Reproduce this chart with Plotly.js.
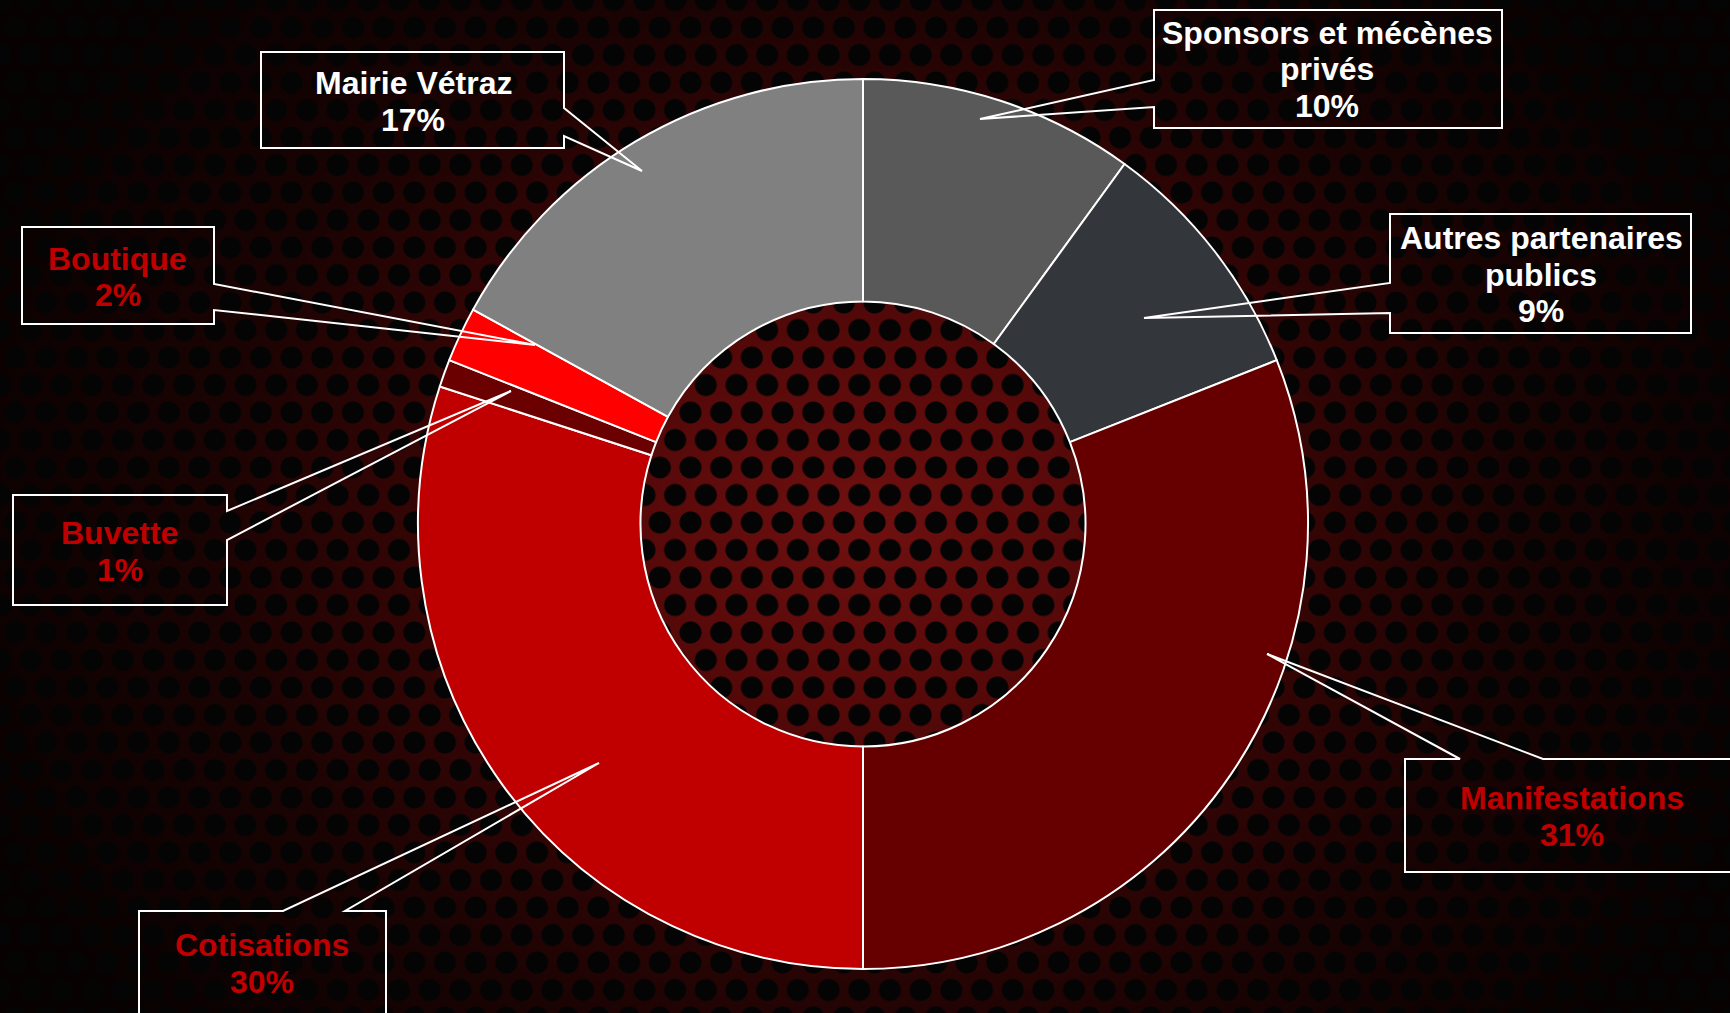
<!DOCTYPE html>
<html>
<head>
<meta charset="utf-8">
<script src="https://cdn.plot.ly/plotly-3.0.1.min.js"></script>
<style>
  html, body { margin: 0; padding: 0; overflow: hidden; }
  body {
    width: 1730px; height: 1013px;
    background-color: #000;
    background-image:
      radial-gradient(circle at 50% 50%, #040404 0px, #040404 10.5px, rgba(0,0,0,0) 11.5px),
      radial-gradient(circle at 50% 50%, #040404 0px, #040404 10.5px, rgba(0,0,0,0) 11.5px),
      radial-gradient(ellipse 950px 780px at 863px 524px, #701010 0%, #560909 24%, #340505 48%, #1a0303 70%, #080101 100%);
    background-size: 30.7px 55px, 30.7px 55px, 100% 100%;
    background-position: 0px 0px, 15.35px 27.5px, 0 0;
  }
  #chart { width: 1730px; height: 1013px; }
</style>
</head>
<body>
<div id="chart"></div>
<script>
// ---- data ----
const categories = ["Sponsors et mécènes privés", "Autres partenaires publics", "Manifestations", "Cotisations", "Buvette", "Boutique", "Mairie Vétraz"];
const values = [10, 9, 31, 30, 1, 2, 17];
const labelLines = [["Sponsors et mécènes", "privés"], ["Autres partenaires", "publics"], ["Manifestations"], ["Cotisations"], ["Buvette"], ["Boutique"], ["Mairie Vétraz"]];
const sliceColors = ["#595959", "#33363b", "#660000", "#c00000", "#6b0000", "#ff0000", "#808080"];
const textColors = ["#ffffff", "#ffffff", "#c00000", "#c00000", "#c00000", "#c00000", "#ffffff"];

// ---- layout (pixel positions of callout boxes) ----
const W = 1730, H = 1013;
const callouts = [
  {box: [1154, 10, 1502, 128], side: "left",  wedge: [80, 107],   tip: [980, 119],  tx: 1327, ty: 33},
  {box: [1390, 214, 1691, 333], side: "left", wedge: [283, 313],  tip: [1144, 318], tx: 1541, ty: 238},
  {box: [1405, 759, 1745, 872], side: "top",  wedge: [1460, 1543], tip: [1267, 654], tx: 1572, ty: 798},
  {box: [139, 911, 386, 1030], side: "top",   wedge: [283, 345],  tip: [599, 763],  tx: 262, ty: 945},
  {box: [13, 495, 227, 605], side: "right",   wedge: [511, 540],  tip: [511, 391],  tx: 120, ty: 533},
  {box: [22, 227, 214, 324], side: "right",   wedge: [284, 310],  tip: [535, 345],  tx: 118, ty: 259},
  {box: [261, 52, 564, 148], side: "right",   wedge: [108, 136],  tip: [642, 171],  tx: 413, ty: 83}
];
const lineGap = 36.5;
const center = [863, 524], radius = 445;

const fx = x => x / W;
const fy = y => 1 - y / H;
const P = (x, y) => fx(x).toFixed(5) + "," + fy(y).toFixed(5);

const total = values.reduce((a, b) => a + b, 0);
const shapes = [];
const annotations = [];
callouts.forEach((c, i) => {
  const [x0, y0, x1, y1] = c.box;
  const [a, b] = c.wedge;
  let pts;
  if (c.side === "top") {
    pts = [[x0, y0], [a, y0], c.tip, [b, y0], [x1, y0], [x1, y1], [x0, y1]];
  } else if (c.side === "right") {
    pts = [[x0, y0], [x1, y0], [x1, a], c.tip, [x1, b], [x1, y1], [x0, y1]];
  } else {
    pts = [[x0, y0], [x1, y0], [x1, y1], [x0, y1], [x0, b], c.tip, [x0, a]];
  }
  const path = "M" + pts.map(p => P(p[0], p[1])).join(" L") + " Z";
  shapes.push({type: "path", xref: "paper", yref: "paper", path: path,
    line: {color: "#ffffff", width: 2}, fillcolor: "rgba(0,0,0,0)", layer: "above"});
  const lines = labelLines[i].concat([Math.round(values[i] / total * 100) + "%"]);
  lines.forEach((t, k) => {
    annotations.push({
      xref: "paper", yref: "paper", x: fx(c.tx), y: fy(c.ty + k * lineGap),
      xanchor: "center", yanchor: "middle", showarrow: false, text: t,
      font: {family: "Liberation Sans, Arial, sans-serif", size: 32, color: textColors[i], weight: "bold"}
    });
  });
});

const data = [{
  type: "pie",
  labels: categories,
  values: values,
  sort: false,
  direction: "clockwise",
  rotation: 0,
  hole: 0.5,
  textinfo: "none",
  hoverinfo: "none",
  marker: {colors: sliceColors, line: {color: "#ffffff", width: 2}},
  domain: {x: [(center[0] - radius) / W, (center[0] + radius) / W],
           y: [1 - (center[1] + radius) / H, 1 - (center[1] - radius) / H]},
  showlegend: false
}];

const layout = {
  width: W, height: H,
  margin: {l: 0, r: 0, t: 0, b: 0},
  paper_bgcolor: "rgba(0,0,0,0)",
  plot_bgcolor: "rgba(0,0,0,0)",
  showlegend: false,
  shapes: shapes,
  annotations: annotations
};

Plotly.newPlot("chart", data, layout, {displayModeBar: false, staticPlot: true});
</script>
</body>
</html>
